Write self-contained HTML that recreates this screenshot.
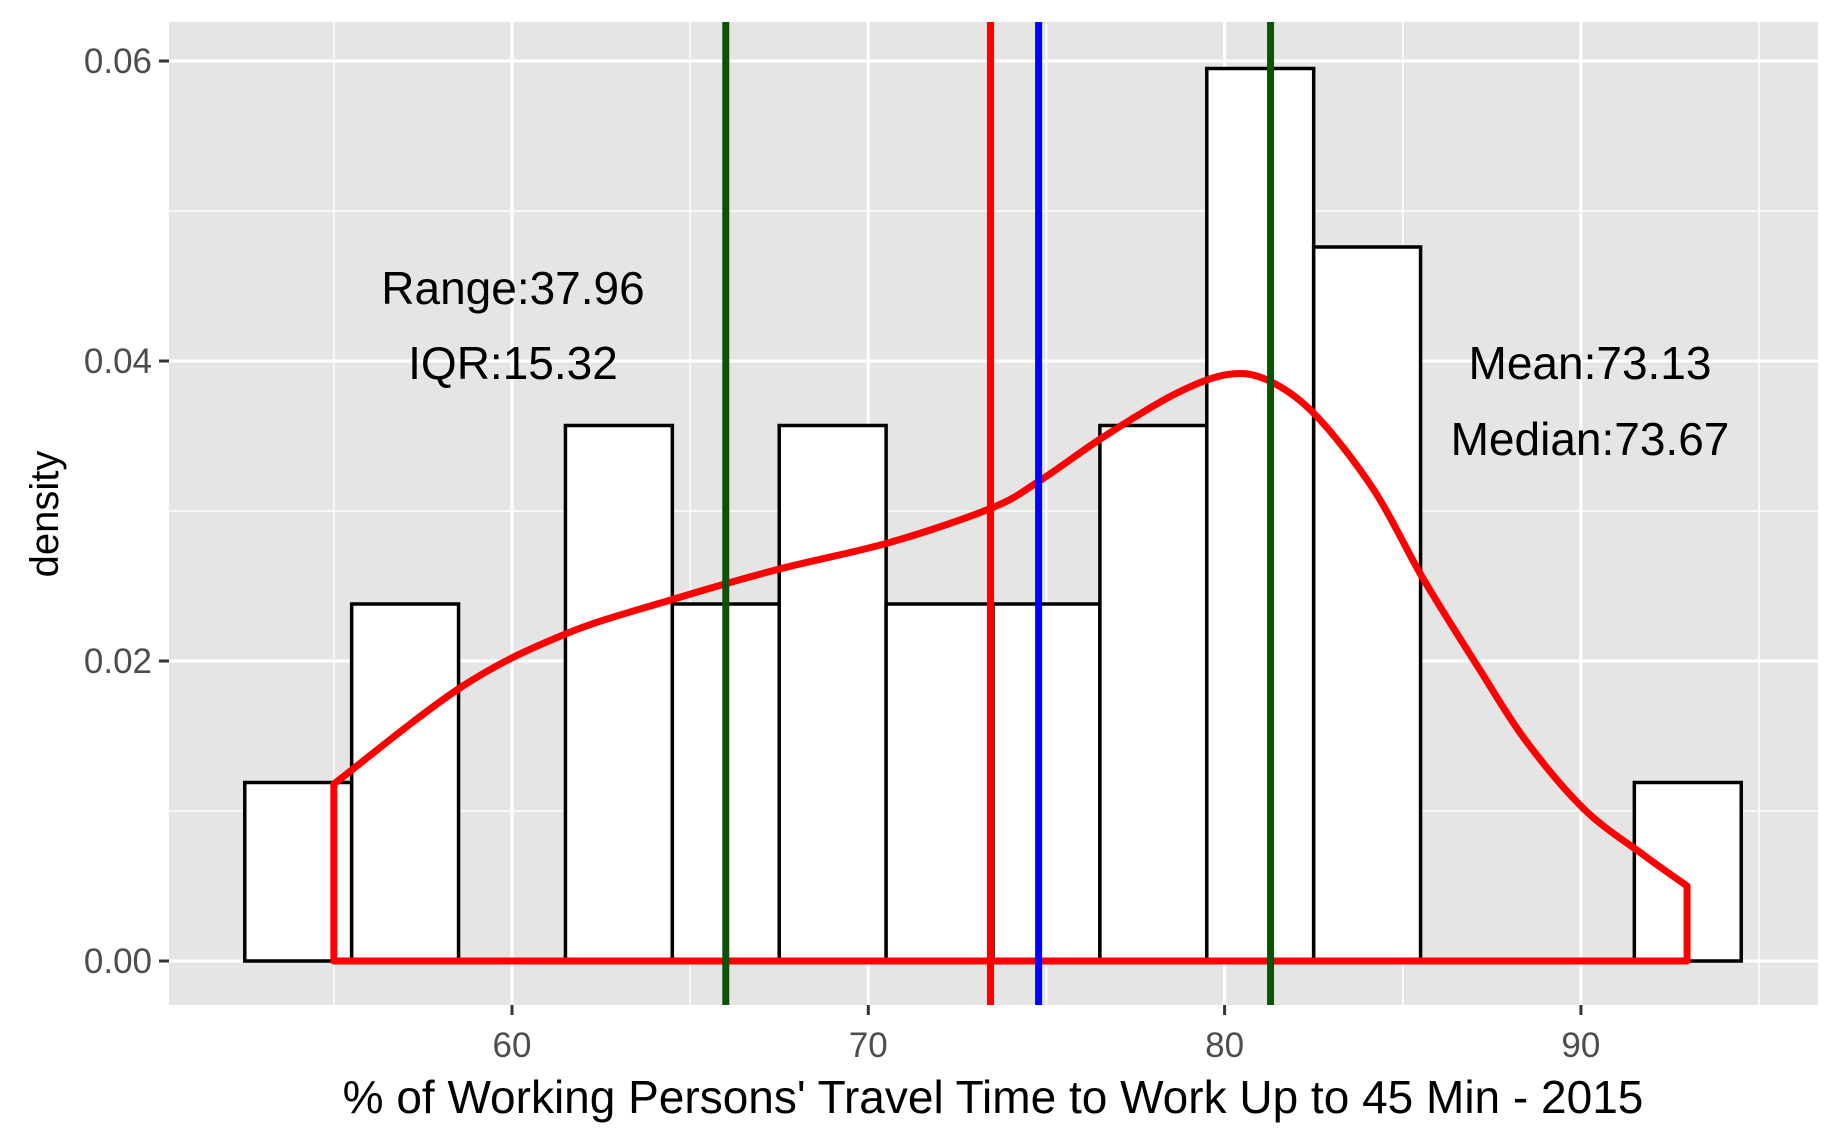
<!DOCTYPE html>
<html><head><meta charset="utf-8"><style>
html,body{margin:0;padding:0;background:#fff;}
svg{display:block;font-family:"Liberation Sans",Arial,sans-serif;}
</style></head><body>
<svg id="chart" width="1840" height="1137" viewBox="0 0 1840 1137" xmlns="http://www.w3.org/2000/svg"></svg>
<script>
const binStarts = [52.5,55.5,58.5,61.5,64.5,67.5,70.5,73.5,76.5,79.5,82.5,85.5,88.5,91.5];
const binDensities = [0.0119,0.0238,0,0.0357,0.0238,0.0357,0.0238,0.0238,0.0357,0.0595,0.0476,0,0,0.0119];
const binWidth = 3;
const densX = [55.0,58.6,61.5,64.5,67.45,70.6,73.46,74.8,76.64,78.61,80.09,81.23,82.55,84.19,85.57,87.14,88.45,90.1,91.74,92.98];
const densY = [0.0118,0.0183,0.0218,0.0241,0.0261,0.0279,0.0302,0.032,0.035,0.0378,0.0391,0.0387,0.0364,0.0314,0.0255,0.0195,0.0147,0.0101,0.0071,0.005];
const vlineValues = [66.0,73.43,74.78,81.29];
const vlineColors = ['#0d5209','#ff0000','#0000ff','#0d5209'];
const vlineNames = ['q1-line','mean-line','median-line','q3-line'];
const xTicks = [60,70,80,90];
const xMinor = [55,65,75,85,95];
const yTicks = [0,0.02,0.04,0.06];
const yTickLabels = ['0.00','0.02','0.04','0.06'];
const yMinor = [0.01,0.03,0.05];

const svg = document.getElementById('chart');
const NS = 'http://www.w3.org/2000/svg';
const P = {l:169, r:1818, t:22, b:1005};
const xs = v => 512 + (v-60)*35.63;
const ys = v => 961 - v*15000;
function mk(tag, attrs, parent){
  const e = document.createElementNS(NS, tag);
  for (const k in attrs) e.setAttribute(k, attrs[k]);
  (parent||svg).appendChild(e); return e;
}
const panel = mk('rect',{x:P.l,y:P.t,width:P.r-P.l,height:P.b-P.t,fill:'#e5e5e5'});


xMinor.forEach(v=>{const l=mk('line',{x1:xs(v),x2:xs(v),y1:P.t,y2:P.b,stroke:'#fff','stroke-width':1.5});

});
yMinor.forEach(v=>{const l=mk('line',{x1:P.l,x2:P.r,y1:ys(v),y2:ys(v),stroke:'#fff','stroke-width':1.5});

});
xTicks.forEach(v=>{const l=mk('line',{x1:xs(v),x2:xs(v),y1:P.t,y2:P.b,stroke:'#fff','stroke-width':3});


const t=mk('line',{x1:xs(v),x2:xs(v),y1:P.b,y2:P.b+10,stroke:'#333','stroke-width':3});


const tx=mk('text',{x:xs(v),y:1057,'text-anchor':'middle','font-size':35,fill:'#4d4d4d'});
tx.textContent=v;

});
yTicks.forEach((v,i)=>{const l=mk('line',{x1:P.l,x2:P.r,y1:ys(v),y2:ys(v),stroke:'#fff','stroke-width':3});


const t=mk('line',{x1:P.l-10,x2:P.l,y1:ys(v),y2:ys(v),stroke:'#333','stroke-width':3});


const tx=mk('text',{x:P.l-17,y:ys(v)+12,'text-anchor':'end','font-size':35,fill:'#4d4d4d'});
tx.textContent=yTickLabels[i];

});
binStarts.forEach((s,i)=>{
  if(binDensities[i]<=0) return;
  const x0=xs(s), x1=xs(s+binWidth), y=ys(binDensities[i]);
  const r=mk('rect',{x:x0,y:y,width:x1-x0,height:ys(0)-y,fill:'#fff',stroke:'#000','stroke-width':3.5});
  
  
});
const pts = densX.map((x,i)=>[xs(x),ys(densY[i])]);
let d='M'+pts[0][0]+','+ys(0)+' L'+pts[0][0]+','+pts[0][1];
for(let i=0;i<pts.length-1;i++){
  const p0=pts[Math.max(0,i-1)], p1=pts[i], p2=pts[i+1], p3=pts[Math.min(pts.length-1,i+2)];
  const c1=[p1[0]+(p2[0]-p0[0])/6, p1[1]+(p2[1]-p0[1])/6];
  const c2=[p2[0]-(p3[0]-p1[0])/6, p2[1]-(p3[1]-p1[1])/6];
  d+=' C'+c1[0]+','+c1[1]+' '+c2[0]+','+c2[1]+' '+p2[0]+','+p2[1];
}
d+=' L'+pts[pts.length-1][0]+','+ys(0)+' Z';
const curve=mk('path',{d:d,fill:'none',stroke:'#ff0000','stroke-width':7,'stroke-linejoin':'round'});


vlineValues.forEach((v,i)=>{const l=mk('line',{x1:xs(v),x2:xs(v),y1:P.t,y2:P.b,stroke:vlineColors[i],'stroke-width':7});

});
const labels=[['Range:37.96',513,304,'range-label'],['IQR:15.32',513,379,'iqr-label'],['Mean:73.13',1590,379,'mean-label'],['Median:73.67',1590,455,'median-label']];
labels.forEach(a=>{const t=mk('text',{x:a[1],y:a[2],'text-anchor':'middle','font-size':46,fill:'#000'});
t.textContent=a[0];

});
const xt=mk('text',{x:993,y:1113,'text-anchor':'middle','font-size':46,fill:'#000'});
xt.textContent="% of Working Persons' Travel Time to Work Up to 45 Min - 2015";


const yt=mk('text',{x:0,y:0,'text-anchor':'middle','font-size':40,fill:'#000',transform:'translate(58,514) rotate(-90)'});
yt.textContent='density';


</script>
</body></html>
